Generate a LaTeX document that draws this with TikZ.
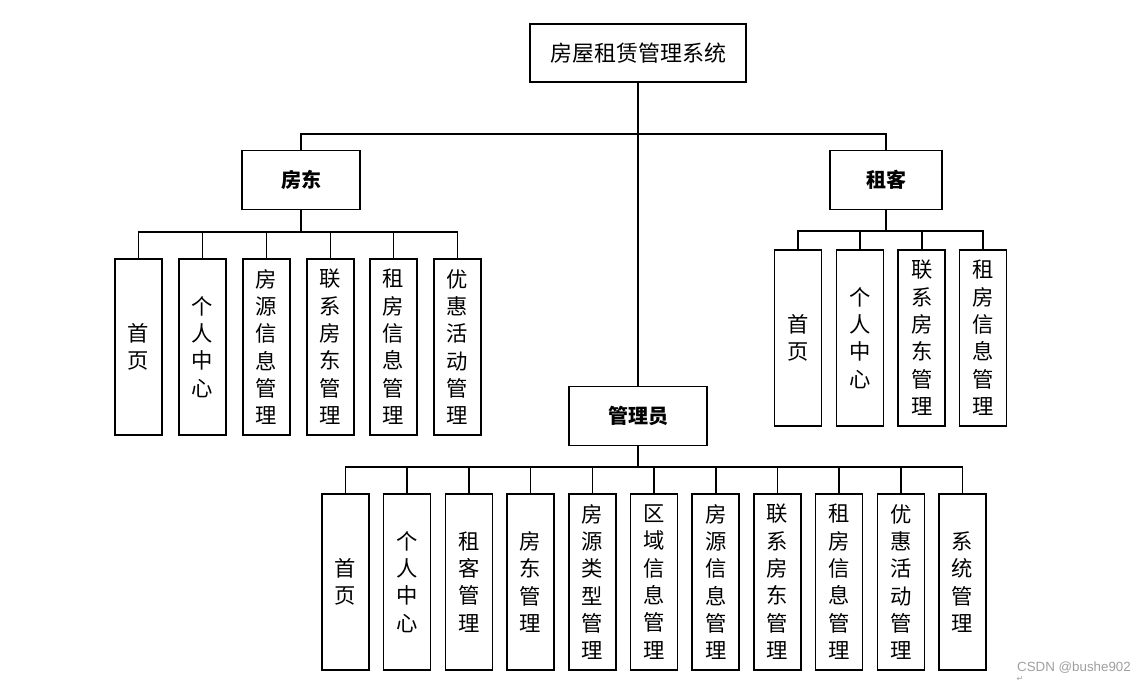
\documentclass[tikz,border=0pt]{standalone}
\usepackage{fontspec}
\newfontfamily\cjk{Noto Sans CJK SC}
\newfontfamily\wmfont{Liberation Sans}
\newfontfamily\symfont{DejaVu Sans}
\tikzset{
	root/.style={draw, line width=1.1pt, minimum width=162pt, minimum height=43.5pt, font=\cjk\fontsize{16.5}{16.5}\selectfont},
	head/.style={draw, line width=1.1pt, minimum height=44pt, font=\cjk\bfseries\fontsize{15}{15}\selectfont},
	leaf/.style={draw, line width=1.1pt, minimum width=35.25pt, minimum height=132pt, inner sep=0pt, align=center, font=\cjk\fontsize{16}{20.5}\selectfont},
	link/.style={line width=1.2pt},
	stub/.style={line width=2pt},
}
\begin{document}
\begin{tikzpicture}[x=0.75pt, y=-0.75pt]
		\useasboundingbox (0,0) rectangle (1146,683);
		\node[root] (xt) at (638,53) {房屋租赁管理系统};
		\node[head, minimum width=88.5pt] (fd) at (301,180) {房东};
		\node[head, minimum width=84pt] (zk) at (886,180) {租客};
		\node[head, minimum width=103.5pt] (gly) at (638,416) {管理员};
		% fangdong
		\node[leaf] (fd1) at (138.5,347) {首\\页};
		\node[leaf] (fd2) at (202.5,347) {个\\人\\中\\心};
		\node[leaf] (fd3) at (266.5,347) {房\\源\\信\\息\\管\\理};
		\node[leaf] (fd4) at (330.5,347) {联\\系\\房\\东\\管\\理};
		\node[leaf] (fd5) at (393.5,347) {租\\房\\信\\息\\管\\理};
		\node[leaf] (fd6) at (457.5,347) {优\\惠\\活\\动\\管\\理};
		% zuke
		\node[leaf] (zk1) at (798,338) {首\\页};
		\node[leaf] (zk2) at (860,338) {个\\人\\中\\心};
		\node[leaf] (zk3) at (921.7,338) {联\\系\\房\\东\\管\\理};
		\node[leaf] (zk4) at (983,338) {租\\房\\信\\息\\管\\理};
		% guanliyuan
		\node[leaf] (gly1) at (345.5,582) {首\\页};
		\node[leaf] (gly2) at (407.2,582) {个\\人\\中\\心};
		\node[leaf] (gly3) at (468.9,582) {租\\客\\管\\理};
		\node[leaf] (gly4) at (530.6,582) {房\\东\\管\\理};
		\node[leaf] (gly5) at (592.3,582) {房\\源\\类\\型\\管\\理};
		\node[leaf] (gly6) at (654,582) {区\\域\\信\\息\\管\\理};
		\node[leaf] (gly7) at (715.7,582) {房\\源\\信\\息\\管\\理};
		\node[leaf] (gly8) at (777.4,582) {联\\系\\房\\东\\管\\理};
		\node[leaf] (gly9) at (839.1,582) {租\\房\\信\\息\\管\\理};
		\node[leaf] (gly10) at (900.8,582) {优\\惠\\活\\动\\管\\理};
		\node[leaf] (gly11) at (962.5,582) {系\\统\\管\\理};
		\draw [link] (xt.south) -- ++(0,51) -| (fd.north);
		\draw [link] (xt.south) -- ++(0,51) -| (zk.north);
		\draw [link] (xt.south) -- (gly.north);
		\foreach \i in {1,...,6} \draw [link] (fd.south) -- ++(0,22) -| (fd\i.north);
		\foreach \i in {1,...,4} \draw [link] (zk.south) -- ++(0,21) -| (zk\i.north);
		\foreach \i in {1,...,11} \draw [link] (gly.south) -- ++(0,21) -| (gly\i.north);
		\draw [stub] (fd.south) -- ++(0,22);
		\draw [stub] (zk.south) -- ++(0,21);
		\draw [stub] (gly.south) -- ++(0,21);
		\node[font=\wmfont\fontsize{10}{10}\selectfont, text=gray!75] (wm) at (1074,668) {CSDN @bushe902};
		\node[font=\symfont\fontsize{6}{6}\selectfont, text=gray!75] (ret) at (1020,679) {↵};
	\end{tikzpicture}
\end{document}
